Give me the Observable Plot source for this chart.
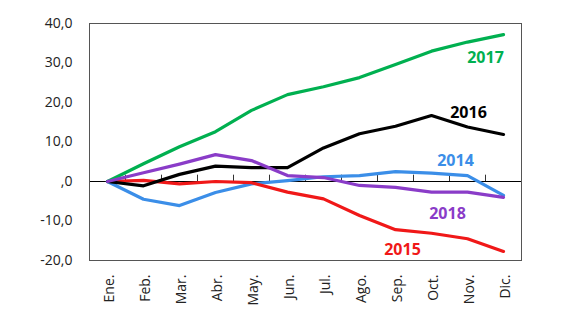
<!DOCTYPE html>
<html><head><meta charset="utf-8">
<script src="https://cdn.jsdelivr.net/npm/d3@7"></script>
<script src="https://cdn.jsdelivr.net/npm/@observablehq/plot@0.6"></script>
<style>body{margin:0;background:#fff;font-family:"Open Sans",sans-serif}</style>
</head><body><div id="chart"></div>
<script>
const months = ["Ene.","Feb.","Mar.","Abr.","May.","Jun.","Jul.","Ago.","Sep.","Oct.","Nov.","Dic."];
const years = ["2014","2015","2016","2017","2018"];
const colors = ["#3b8ee8","#f01818","#000000","#00b050","#8a3cc8"];
const v2014 = [0,-4.5,-6.1,-2.8,-0.6,0.2,1.2,1.5,2.5,2.1,1.5,-3.5];
const v2015 = [0,0.3,-0.6,0,-0.3,-2.7,-4.4,-8.6,-12.2,-13.1,-14.5,-17.7];
const v2016 = [0,-1.1,1.8,3.9,3.5,3.5,8.5,12.1,14,16.7,13.8,11.9];
const v2017 = [0,4.5,8.8,12.6,18,22,24,26.3,29.6,33,35.3,37.2];
const v2018 = [0,2.2,4.4,6.8,5.3,1.5,1,-1,-1.5,-2.7,-2.7,-4];
const labelMonth = ["Oct.","Sep.","Nov.","Nov.","Oct."];
const labelValue = [5.1,-17.2,17.5,31.4,-8.1];
const labelDx = [24,7,1,18,16];
const yTicks = [-20,-10,0,10,20,30,40];

const series = [v2014,v2015,v2016,v2017,v2018];
const rows = years.flatMap((y,i)=>months.map((m,j)=>({year:y,month:m,value:series[i][j]})));
const labels = years.map((y,i)=>({year:y,month:labelMonth[i],value:labelValue[i],dx:labelDx[i]}));
const colorOf = Object.fromEntries(years.map((y,i)=>[y,colors[i]]));

const W=577,H=332,mL=89,mR=56,mT=23,mB=72;
const step=(W-mL-mR)/months.length;
const fmt = d => d===0 ? ",0" : d.toFixed(1).replace(".",",");

const chart = Plot.plot({
  width:W,height:H,marginLeft:mL,marginRight:mR,marginTop:mT,marginBottom:mB,
  style:{fontFamily:"Open Sans, sans-serif",fontSize:"14px",color:"#222",background:"#fff"},
  x:{type:"point",domain:months,padding:0.5},
  y:{domain:[-20,40]},
  marks:[
    Plot.axisY({ticks:yTicks,tickFormat:fmt,tickSize:0,tickPadding:17,label:null,fontSize:14}),
    Plot.ruleY(yTicks,{x1:months[0],x2:months[0],dx:-step/2,insetRight:-6,stroke:"#555"}),
    Plot.axisX({tickSize:0,tickRotate:-90,tickPadding:14,dx:2,label:null,fontSize:14}),
    Plot.ruleY([0],{stroke:"#000",strokeWidth:1}),
    Plot.ruleX(months.slice(1),{y1:0,y2:1.6,dx:-step/2,stroke:"#333"}),
    ...years.map(y=>Plot.line(rows.filter(r=>r.year===y),{x:"month",y:"value",stroke:colorOf[y],strokeWidth:3.2,strokeLinejoin:"round"})),
    Plot.frame({stroke:"#555",strokeWidth:1}),
    ...labels.map(l=>Plot.text([l],{x:"month",y:"value",text:"year",dx:l.dx,fill:colorOf[l.year],fontWeight:"bold",fontSize:16}))
  ]
});
document.getElementById("chart").append(chart);
</script></body></html>
